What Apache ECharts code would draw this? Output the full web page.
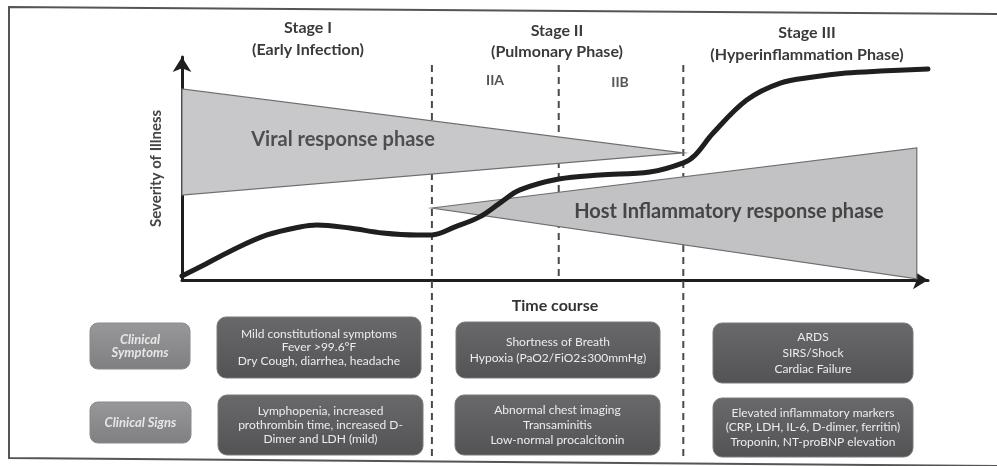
<!DOCTYPE html>
<html>
<head>
<meta charset="utf-8">
<script src="https://cdn.jsdelivr.net/npm/echarts@6/dist/echarts.min.js"></script>
<style>
html,body{margin:0;padding:0;background:#fff;}
#chart{width:997px;height:466px;}
</style>
</head>
<body>
<div id="chart"></div>
<script>
// ---- data ----
const timeCourse = [0, 2.4, 6.8, 11.4, 15.8, 18.1, 22.5, 26.9, 31.5, 33.5, 36.6, 39.9, 42.6, 45.3, 50.5, 56.0, 62.7, 67.2, 68.8, 71.2, 75.7, 80.2, 84.6, 89.0, 93.6, 100];
const severity   = [1.8, 5.8, 13.5, 20.2, 23.8, 24.7, 23.3, 21.1, 20.2, 20.2, 23.8, 28.3, 34.5, 40.4, 45.3, 47.1, 48.4, 52.5, 56.1, 65.9, 80.7, 88.3, 91.0, 92.8, 93.7, 94.6];
const viralPhase = [[0, 85.7], [0, 38.1], [67.2, 57.0]];
const hostPhase  = [[33.5, 32.3], [98.5, 59.2], [98.5, 0.5]];
const stageBoundaryX   = [33.5, 50.5, 67.2];
const stageBoundaryTop = [96.4, 96.4, 96.4];
const stageBoundaryBot = [-80.7, 0, -80.7];
const stageTitles    = ['Stage I', 'Stage II', 'Stage III'];
const stageSubtitles = ['(Early Infection)', '(Pulmonary Phase)', '(Hyperinflammation Phase)'];
const subStageLabels = ['IIA', 'IIB'];
const phaseLabels    = ['Viral response phase', 'Host Inflammatory response phase'];
const rowLabels      = ['Clinical\nSymptoms', 'Clinical Signs'];
const symptoms = [
  'Mild constitutional symptoms\nFever >99.6°F\nDry Cough, diarrhea, headache',
  'Shortness of Breath\nHypoxia (PaO2/FiO2≤300mmHg)',
  'ARDS\nSIRS/Shock\nCardiac Failure'
];
const signs = [
  'Lymphopenia, increased\nprothrombin time, increased D-\nDimer and LDH (mild)',
  'Abnormal chest imaging\nTransaminitis\nLow-normal procalcitonin',
  'Elevated inflammatory markers\n(CRP, LDH, IL-6, D-dimer, ferritin)\nTroponin, NT-proBNP elevation'
];

// ---- layout ----
const FONT = 'Lato, "Open Sans", sans-serif';
const chart = echarts.init(document.getElementById('chart'), null, {renderer: 'canvas'});

function polygonSeries(pts, fill) {
  return {
    type: 'custom', z: 3, data: pts, encode: {x: 0, y: 1}, silent: true,
    renderItem: function (params, api) {
      if (params.dataIndex !== 0) return null;
      return {
        type: 'polygon',
        shape: {points: pts.map(p => api.coord(p))},
        style: {fill: fill, stroke: '#6e6e70', lineWidth: 1.2}
      };
    }
  };
}

function darkBox(x, y, w, h, text, lh) {
  return {
    type: 'group', z: 10,
    children: [
      {type: 'rect', shape: {x: x, y: y, width: w, height: h, r: 9},
       style: {fill: new echarts.graphic.LinearGradient(0, 0, 0, 1, [{offset: 0, color: '#69696b'}, {offset: 1, color: '#535355'}]), stroke: '#7a7a7c', lineWidth: 1}},
      {type: 'text', style: {text: text, x: x + w / 2, y: y + h / 2, fill: '#ececec', font: '12px ' + FONT,
       textAlign: 'center', textVerticalAlign: 'middle', lineHeight: lh}}
    ]
  };
}
function labelBox(x, y, w, h, text) {
  return {
    type: 'group', z: 10,
    children: [
      {type: 'rect', shape: {x: x, y: y, width: w, height: h, r: 8},
       style: {fill: new echarts.graphic.LinearGradient(0, 0, 0, 1, [{offset: 0, color: '#98989a'}, {offset: 1, color: '#7f7f81'}]), stroke: '#8a8a8c', lineWidth: 1}},
      {type: 'text', style: {text: text, x: x + w / 2, y: y + h / 2, fill: '#e6e6e6', font: 'italic bold 13px ' + FONT,
       textAlign: 'center', textVerticalAlign: 'middle', lineHeight: 13}}
    ]
  };
}
function headText(x, y, text, size, color) {
  return {type: 'text', z: 20, style: {text: text, x: x, y: y, fill: color || '#3a3a3a', font: 'bold ' + (size || 16) + 'px ' + FONT,
    textAlign: 'center', textVerticalAlign: 'middle'}};
}

const option = {
  animation: false,
  backgroundColor: '#ffffff',
  grid: {left: 182, top: 57, width: 746, height: 223, containLabel: false},
  xAxis: {
    type: 'value', min: 0, max: 100,
    name: 'Time course', nameLocation: 'middle', nameGap: 18,
    nameTextStyle: {fontFamily: FONT, fontWeight: 'bold', fontSize: 16, color: '#333'},
    axisLine: {show: true, symbol: ['none', 'arrow'], symbolSize: [14, 15], lineStyle: {color: '#1e1e1e', width: 3}},
    axisTick: {show: false}, axisLabel: {show: false}, splitLine: {show: false}
  },
  yAxis: {
    type: 'value', min: 0, max: 100,
    name: 'Severity of Illness', nameLocation: 'middle', nameGap: 18, nameRotate: 90,
    nameTextStyle: {fontFamily: FONT, fontWeight: 'bold', fontSize: 15, color: '#444'},
    axisLine: {show: true, symbol: ['none', 'arrow'], symbolSize: [14, 15], lineStyle: {color: '#1e1e1e', width: 3}},
    axisTick: {show: false}, axisLabel: {show: false}, splitLine: {show: false}
  },
  series: [
    {
      type: 'custom', z: 2, clip: false, silent: true,
      data: stageBoundaryX.map((x, i) => [x, stageBoundaryTop[i], stageBoundaryBot[i]]),
      encode: {x: 0, y: [1, 2]},
      renderItem: function (params, api) {
        const p1 = api.coord([api.value(0), api.value(1)]);
        const p2 = api.coord([api.value(0), api.value(2)]);
        return {type: 'line', shape: {x1: p1[0], y1: p1[1], x2: p2[0], y2: p2[1]},
          style: {stroke: '#4a4a4a', lineWidth: 2, lineDash: [7, 5]}};
      }
    },
    polygonSeries(viralPhase, '#c8c8ca'),
    polygonSeries(hostPhase, '#c2c2c4'),
    {
      type: 'line', z: 5, smooth: 0.35, symbol: 'none', silent: true,
      data: timeCourse.map((t, i) => [t, severity[i]]),
      lineStyle: {color: '#1f1f1f', width: 5, cap: 'round'}
    }
  ],
  graphic: [
    {type: 'polyline', z: 0, shape: {points: [[997, 14], [9, 7], [9, 458], [997, 466]]}, style: {stroke: '#555', lineWidth: 2, fill: null}},
    headText(308, 28, stageTitles[0]), headText(308, 50, stageSubtitles[0]),
    headText(557, 31, stageTitles[1]), headText(557, 52, stageSubtitles[1]),
    headText(807, 33, stageTitles[2]), headText(807, 55, stageSubtitles[2]),
    headText(495, 80, subStageLabels[0], 14, '#555'), headText(620, 82, subStageLabels[1], 14, '#555'),
    headText(343, 140, phaseLabels[0], 20, '#4e4e4e'),
    headText(729, 212, phaseLabels[1], 20, '#454545'),
    labelBox(90, 323, 100, 46, rowLabels[0]),
    labelBox(90, 402, 101, 41, rowLabels[1]),
    darkBox(217, 317, 204, 61, symptoms[0], 13.5),
    darkBox(456, 322, 204, 56, symptoms[1], 16),
    darkBox(713, 323, 200, 60, symptoms[2], 16),
    darkBox(218, 395, 205, 60, signs[0], 14),
    darkBox(455, 395, 205, 60, signs[1], 15),
    darkBox(713, 398, 200, 59, signs[2], 14.5)
  ]
};
chart.setOption(option);
</script>
</body>
</html>
